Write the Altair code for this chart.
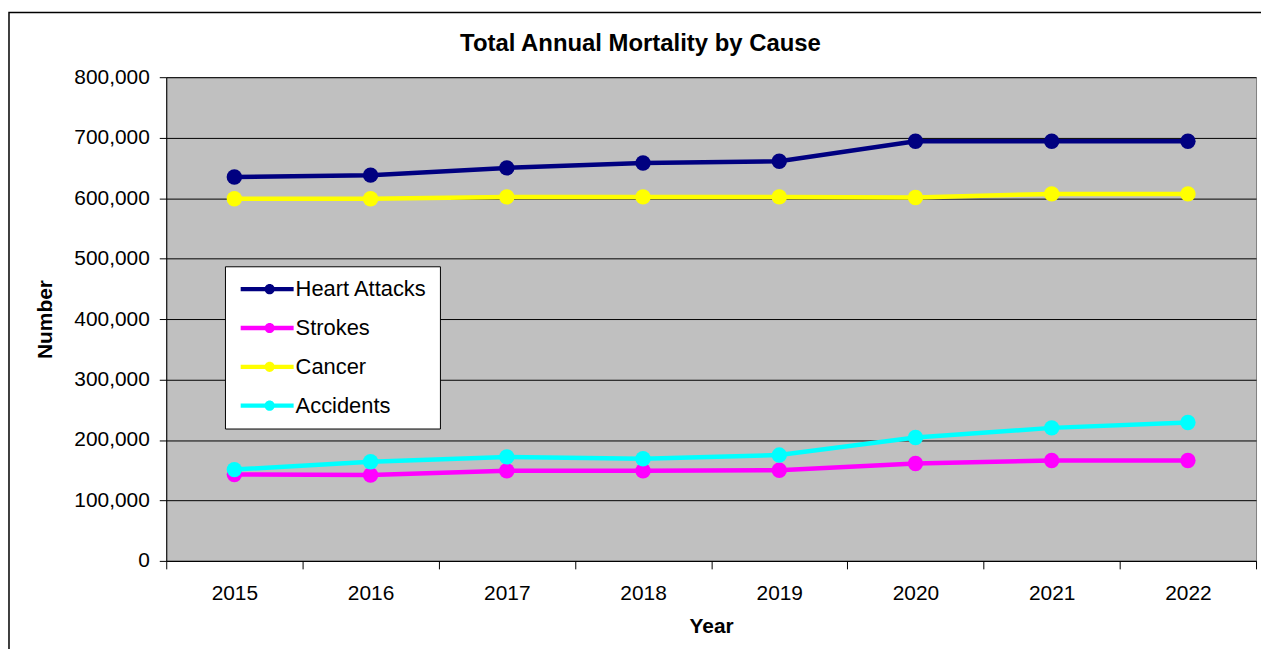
import altair as alt
import pandas as pd

years = ["2015", "2016", "2017", "2018", "2019", "2020", "2021", "2022"]
series_names = ["Heart Attacks", "Strokes", "Cancer", "Accidents"]
heart_attacks = [635000, 638000, 650000, 658000, 661000, 694000, 694000, 694000]
strokes = [143000, 142000, 149000, 149000, 150000, 161000, 166000, 166000]
cancer = [599000, 599000, 602000, 602000, 602000, 601000, 607000, 607000]
accidents = [151000, 164000, 172000, 169000, 175000, 204000, 220000, 229000]
colors = ["#000080", "#FF00FF", "#FFFF00", "#00FFFF"]

rows = []
for name, vals in zip(series_names, [heart_attacks, strokes, cancer, accidents]):
    for y, v in zip(years, vals):
        rows.append({"Year": y, "Number": v, "Series": name})
df = pd.DataFrame(rows)

W, H = 1095, 486
FONT = "Liberation Sans"

color_scale = alt.Scale(domain=series_names, range=colors)

x_enc = alt.X("Year:N", sort=years,
              scale=alt.Scale(paddingInner=0, paddingOuter=0),
              axis=alt.Axis(title="Year", labelAngle=0, tickBand="extent",
                            tickSize=8, labelPadding=14, grid=False,
                            titleX=W / 2, titleY=66, titleBaseline="middle",
                            titleAlign="center"))
y_enc = alt.Y("Number:Q",
              scale=alt.Scale(domain=[0, 800000], nice=False),
              axis=alt.Axis(title="Number", values=list(range(0, 800001, 100000)),
                            format=",d", tickSize=7, labelPadding=10,
                            grid=True, gridColor="black", gridWidth=1, gridOpacity=1,
                            titleAngle=-90, titleX=-121, titleY=H / 2,
                            titleBaseline="middle", titleAlign="center"))

lines = alt.Chart(df).mark_line(strokeWidth=4.5).encode(
    x=x_enc, y=y_enc,
    color=alt.Color("Series:N", scale=color_scale, legend=None),
    detail="Series:N",
)

legend_symbol = ("M-1.2,-0.36 L7.667,-0.36 L7.667,0.36 L-1.2,0.36 Z "
                 "M4.5,0 A0.85,0.85 0 1,1 2.8,0 A0.85,0.85 0 1,1 4.5,0 Z")

points = alt.Chart(df).mark_circle(size=240, opacity=1).encode(
    x=alt.X("Year:N", sort=years),
    y="Number:Q",
    color=alt.Color("Series:N", scale=color_scale,
                    legend=alt.Legend(title=None, orient="none", legendX=59, legendY=190,
                                      symbolType=legend_symbol, symbolSize=144,
                                      symbolStrokeWidth=0, labelOffset=37,
                                      labelFontSize=22, labelFont=FONT, labelColor="black",
                                      fillColor="white", strokeColor="black",
                                      padding=12, rowPadding=17)),
)

border = alt.Chart(pd.DataFrame({"a": [0]})).mark_rect(
    filled=False, stroke="black", strokeWidth=1.5
).encode(x=alt.value(-158), x2=alt.value(1130), y=alt.value(-65), y2=alt.value(640))

chart = alt.layer(lines, points, border).resolve_scale(
    color="independent"
).resolve_legend(
    color="independent"
).properties(
    width=W, height=H,
    title=alt.TitleParams("Total Annual Mortality by Cause", font=FONT, fontSize=24,
                          fontWeight="bold", color="black", anchor="middle",
                          baseline="bottom", dx=-71, dy=68, offset=0),
    autosize=alt.AutoSizeParams(type="none"),
    padding={"left": 159, "top": 68, "right": 5, "bottom": 87},
    background="white",
).configure_view(
    fill="#C0C0C0", stroke="#808080", strokeWidth=1
).configure_axis(
    labelFont=FONT, labelFontSize=21, labelColor="black",
    titleFont=FONT, titleFontSize=21, titleFontWeight="bold", titleColor="black",
    domainColor="black", tickColor="black", domainWidth=1, tickWidth=1,
)

chart.save("out.html", embed_options={"renderer": "svg", "actions": False})
